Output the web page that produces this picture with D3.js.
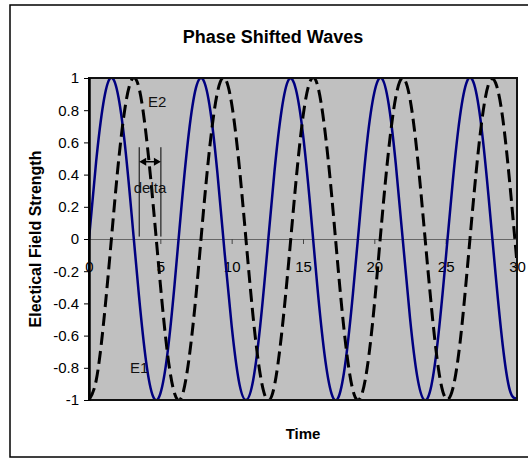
<!DOCTYPE html>
<html>
<head>
<meta charset="utf-8">
<script src="https://cdn.jsdelivr.net/npm/d3@7"></script>
<style>
  html, body { margin: 0; padding: 0; background: #fff; }
  svg { display: block; font-family: Arial, "Liberation Sans", sans-serif; }
</style>
</head>
<body>
<svg id="chart" width="528" height="458"></svg>
<script>
// time samples (0 .. 30 in steps of 0.5)
const time = [
  0, 0.5, 1, 1.5, 2, 2.5, 3, 3.5, 4, 4.5, 5, 5.5, 6, 6.5, 7, 7.5, 8, 8.5, 9, 9.5,
  10, 10.5, 11, 11.5, 12, 12.5, 13, 13.5, 14, 14.5, 15, 15.5, 16, 16.5, 17, 17.5, 18, 18.5, 19, 19.5,
  20, 20.5, 21, 21.5, 22, 22.5, 23, 23.5, 24, 24.5, 25, 25.5, 26, 26.5, 27, 27.5, 28, 28.5, 29, 29.5, 30
];

// E1 - solid blue wave
const e1 = [
  0, 0.48, 0.84, 1.00, 0.91, 0.60, 0.14, -0.35, -0.76, -0.98, -0.96, -0.71, -0.28, 0.22, 0.66, 0.94, 0.99, 0.80, 0.41, -0.08,
  -0.54, -0.88, -1.00, -0.88, -0.54, -0.07, 0.42, 0.80, 0.99, 0.93, 0.65, 0.21, -0.29, -0.71, -0.96, -0.98, -0.75, -0.34, 0.15, 0.61,
  0.91, 1.00, 0.84, 0.47, -0.01, -0.49, -0.85, -1.00, -0.91, -0.59, -0.13, 0.36, 0.76, 0.98, 0.96, 0.70, 0.27, -0.22, -0.66, -0.94, -0.99
];

// E2 - dashed black wave, shifted
const e2 = [
  -1.00, -0.88, -0.54, -0.07, 0.42, 0.80, 0.99, 0.94, 0.65, 0.21, -0.28, -0.71, -0.96, -0.98, -0.75, -0.35, 0.15, 0.60, 0.91, 1.00,
  0.84, 0.48, 0.00, -0.48, -0.84, -1.00, -0.91, -0.59, -0.14, 0.35, 0.76, 0.98, 0.96, 0.70, 0.28, -0.22, -0.66, -0.94, -0.99, -0.80,
  -0.41, 0.09, 0.55, 0.88, 1.00, 0.87, 0.53, 0.06, -0.42, -0.81, -0.99, -0.93, -0.65, -0.20, 0.29, 0.71, 0.96, 0.97, 0.75, 0.34, -0.15
];

const xTicks = [0, 5, 10, 15, 20, 25, 30];
const yTicks = [-1, -0.8, -0.6, -0.4, -0.2, 0, 0.2, 0.4, 0.6, 0.8, 1];

const svg = d3.select("#chart");
const plot = { left: 89, right: 517, top: 78, bottom: 400 };

const x = d3.scaleLinear().domain([0, 30]).range([plot.left, plot.right]);
const y = d3.scaleLinear().domain([-1, 1]).range([plot.bottom, plot.top]);

// outer chart border
svg.append("rect")
  .attr("x", 10).attr("y", 5)
  .attr("width", 530).attr("height", 452)
  .attr("fill", "#fff")
  .attr("stroke", "#000")
  .attr("stroke-width", 1.5);

// title
svg.append("text")
  .attr("x", 273).attr("y", 43)
  .attr("text-anchor", "middle")
  .attr("font-size", 18)
  .attr("font-weight", "bold")
  .text("Phase Shifted Waves");

// plot area
svg.append("rect")
  .attr("x", plot.left).attr("y", plot.top)
  .attr("width", plot.right - plot.left).attr("height", plot.bottom - plot.top)
  .attr("fill", "#c0c0c0");

svg.append("clipPath").attr("id", "clip")
  .append("rect")
  .attr("x", plot.left).attr("y", plot.top - 1)
  .attr("width", plot.right - plot.left).attr("height", plot.bottom - plot.top + 2);

// x axis through zero
const xAxis = svg.append("g")
  .attr("transform", `translate(0,${y(0)})`)
  .call(d3.axisBottom(x).tickValues(xTicks).tickSizeInner(5).tickSizeOuter(0).tickPadding(17));
xAxis.select(".domain").attr("stroke", "#666").attr("stroke-width", 1.2);
xAxis.selectAll(".tick line").attr("stroke", "#444");
xAxis.selectAll(".tick text").attr("font-size", 15).attr("fill", "#000")
  .attr("font-family", "Arial, 'Liberation Sans', sans-serif");

const line = (vals) => d3.line()
  .x((d, i) => x(time[i]))
  .y((d) => y(d))
  .curve(d3.curveNatural)(vals);

const waves = svg.append("g").attr("clip-path", "url(#clip)");

waves.append("path")
  .attr("d", line(e1))
  .attr("fill", "none")
  .attr("stroke", "#000080")
  .attr("stroke-width", 2.5);

waves.append("path")
  .attr("d", line(e2))
  .attr("fill", "none")
  .attr("stroke", "#000")
  .attr("stroke-width", 3)
  .attr("stroke-dasharray", "13,6");

// plot border
svg.append("rect")
  .attr("x", plot.left).attr("y", plot.top)
  .attr("width", plot.right - plot.left).attr("height", plot.bottom - plot.top)
  .attr("fill", "none")
  .attr("stroke", "#111")
  .attr("stroke-width", 2);

// y axis
const yAxis = svg.append("g")
  .attr("transform", `translate(${plot.left},0)`)
  .call(d3.axisLeft(y).tickValues(yTicks).tickSizeInner(5).tickSizeOuter(0).tickPadding(5)
    .tickFormat((d) => String(d)));
yAxis.select(".domain").attr("stroke", "#000").attr("stroke-width", 2.5);
yAxis.selectAll(".tick line").attr("stroke", "#000");
yAxis.selectAll(".tick text").attr("font-size", 15).attr("fill", "#000")
  .attr("font-family", "Arial, 'Liberation Sans', sans-serif");

// axis titles
svg.append("text")
  .attr("transform", `translate(41,${y(0)}) rotate(-90)`)
  .attr("text-anchor", "middle")
  .attr("font-size", 16)
  .attr("font-weight", "bold")
  .text("Electical Field Strength");

svg.append("text")
  .attr("x", (plot.left + plot.right) / 2).attr("y", 439)
  .attr("text-anchor", "middle")
  .attr("font-size", 15)
  .attr("font-weight", "bold")
  .text("Time");

// annotations
const ann = svg.append("g").attr("font-size", 15).attr("fill", "#111");
ann.append("text").attr("x", x(4.14)).attr("y", y(0.82)).text("E2");
ann.append("text").attr("x", x(2.87)).attr("y", y(-0.83)).text("E1");
ann.append("text").attr("x", x(4.28)).attr("y", y(0.285)).attr("text-anchor", "middle").text("delta");

const d0 = 3.52, d1 = 5.04;
[d0, d1].forEach((t) => {
  svg.append("line")
    .attr("x1", x(t)).attr("x2", x(t))
    .attr("y1", y(0.57)).attr("y2", y(0.015))
    .attr("stroke", "#000").attr("stroke-width", 1);
});
const ay = y(0.48);
svg.append("line")
  .attr("x1", x(d0) + 4).attr("x2", x(d1) - 4)
  .attr("y1", ay).attr("y2", ay)
  .attr("stroke", "#000").attr("stroke-width", 1.5);
svg.append("path")
  .attr("d", `M${x(d0)},${ay} l7,-4 l0,8 Z M${x(d1)},${ay} l-7,-4 l0,8 Z`)
  .attr("fill", "#000");
</script>
</body>
</html>
